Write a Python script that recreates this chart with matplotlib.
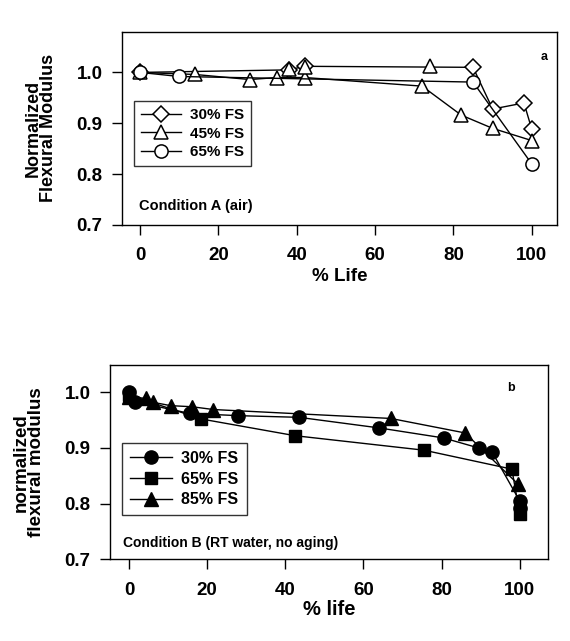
import matplotlib
matplotlib.use("Agg")
import matplotlib.pyplot as plt

plt.rcParams['font.family'] = ['Liberation Sans', 'DejaVu Sans']
plt.rcParams['font.weight'] = 'bold'

# Panel a (Condition A, air)
a30_x = [0, 38, 42, 85, 90, 98, 100]
a30_y = [1.0, 1.005, 1.012, 1.010, 0.928, 0.940, 0.888]
a45_x = [0, 14, 28, 35, 42, 72, 82, 90, 100]
a45_y = [1.0, 0.996, 0.986, 0.990, 0.990, 0.973, 0.916, 0.890, 0.866]
a45_extra_x = [38, 42, 74]
a45_extra_y = [1.007, 1.011, 1.012]
a65_x = [0, 10, 85, 100]
a65_y = [1.0, 0.992, 0.981, 0.820]

# Panel b (Condition B, RT water, no aging)
b30_x = [0, 1.5, 15.5, 28, 43.5, 64, 80.5, 89.5, 93, 100, 100]
b30_y = [1.0, 0.983, 0.962, 0.958, 0.955, 0.936, 0.918, 0.900, 0.892, 0.805, 0.792]
b65_x = [0, 18.5, 42.5, 75.5, 98, 100]
b65_y = [0.995, 0.952, 0.922, 0.896, 0.862, 0.782]
b85_x = [0, 4.2, 6.1, 10.6, 16.1, 21.6, 67, 86, 99.6]
b85_y = [0.992, 0.989, 0.982, 0.976, 0.974, 0.969, 0.953, 0.927, 0.835]

xticks = [0, 20, 40, 60, 80, 100]
yticks = [0.7, 0.8, 0.9, 1.0]

fig = plt.figure(figsize=(5.70, 6.41), dpi=100)
ax1 = fig.add_axes([0.214, 0.649, 0.763, 0.3015])
ax2 = fig.add_axes([0.193, 0.1274, 0.768, 0.3032])

lw = 1.0
ms = 9.5

ax1.plot(a30_x, a30_y, '-', color='black', lw=lw, marker='D', ms=ms - 1.5,
         mfc='white', mec='black', mew=1.1, label='30% FS', zorder=3)
ax1.plot(a45_x, a45_y, '-', color='black', lw=lw, marker='^', ms=ms,
         mfc='white', mec='black', mew=1.1, label='45% FS', zorder=3)
ax1.plot(a45_extra_x, a45_extra_y, 'none', color='black', lw=0, marker='^', ms=ms,
         mfc='white', mec='black', mew=1.1, zorder=3)
ax1.plot(a65_x, a65_y, '-', color='black', lw=lw, marker='o', ms=ms,
         mfc='white', mec='black', mew=1.1, label='65% FS', zorder=3)

ax2.plot(b30_x, b30_y, '-', color='black', lw=lw, marker='o', ms=ms,
         mfc='black', mec='black', label='30% FS', zorder=3)
ax2.plot(b65_x, b65_y, '-', color='black', lw=lw, marker='s', ms=ms - 1,
         mfc='black', mec='black', label='65% FS', zorder=3)
ax2.plot(b85_x, b85_y, '-', color='black', lw=lw, marker='^', ms=ms,
         mfc='black', mec='black', label='85% FS', zorder=3)

for ax in (ax1, ax2):
    ax.set_xticks(xticks)
    ax.set_yticks(yticks)
    ax.set_yticklabels([f"{v:.1f}" for v in yticks])
    ax.tick_params(direction='out', length=7, width=1.0, labelsize=13.5, pad=7)
    ax.tick_params(axis='x', pad=9)
    for lab in ax.get_xticklabels() + ax.get_yticklabels():
        lab.set_fontweight('bold')
    for sp in ax.spines.values():
        sp.set_linewidth(1.0)

ax1.set_xlim(-4.6, 106.4)
ax1.set_ylim(0.7, 1.08)
ax2.set_xlim(-4.9, 107.2)
ax2.set_ylim(0.7, 1.049)

ax1.set_xlabel('% Life', fontsize=13.5, fontweight='bold', labelpad=3)
ax1.set_ylabel('Normalized\nFlexural Modulus', fontsize=13, fontweight='bold',
               labelpad=14, linespacing=0.9)
ax2.set_xlabel('% life', fontsize=14.5, fontweight='bold', labelpad=1)
ax2.set_ylabel('normalized\nflexural modulus', fontsize=13.5, fontweight='bold',
               labelpad=14, linespacing=0.9)

leg1 = ax1.legend(loc='upper left', bbox_to_anchor=(0.01, 0.68), frameon=True,
                  fancybox=False, edgecolor='black',
                  handlelength=2.6, borderpad=0.45, labelspacing=0.3,
                  handletextpad=0.6,
                  prop={'weight': 'bold', 'size': 11})
leg1.get_frame().set_linewidth(1.0)
leg2 = ax2.legend(loc='upper left', bbox_to_anchor=(0.01, 0.64), frameon=True,
                  fancybox=False, edgecolor='black',
                  handlelength=2.6, borderpad=0.5, labelspacing=0.35,
                  handletextpad=0.6,
                  prop={'weight': 'bold', 'size': 11.5})
leg2.get_frame().set_linewidth(1.0)

ax1.text(0.04, 0.10, 'Condition A (air)', transform=ax1.transAxes,
         fontsize=10.5, ha='left', va='center')
ax2.text(0.03, 0.085, 'Condition B (RT water, no aging)', transform=ax2.transAxes,
         fontsize=10, ha='left', va='center')
ax1.text(0.97, 0.87, 'a', transform=ax1.transAxes, fontsize=9,
         fontweight='bold', ha='center', va='center')
ax2.text(0.915, 0.88, 'b', transform=ax2.transAxes, fontsize=9,
         fontweight='bold', ha='center', va='center')

fig.savefig('out.png', dpi=100)
